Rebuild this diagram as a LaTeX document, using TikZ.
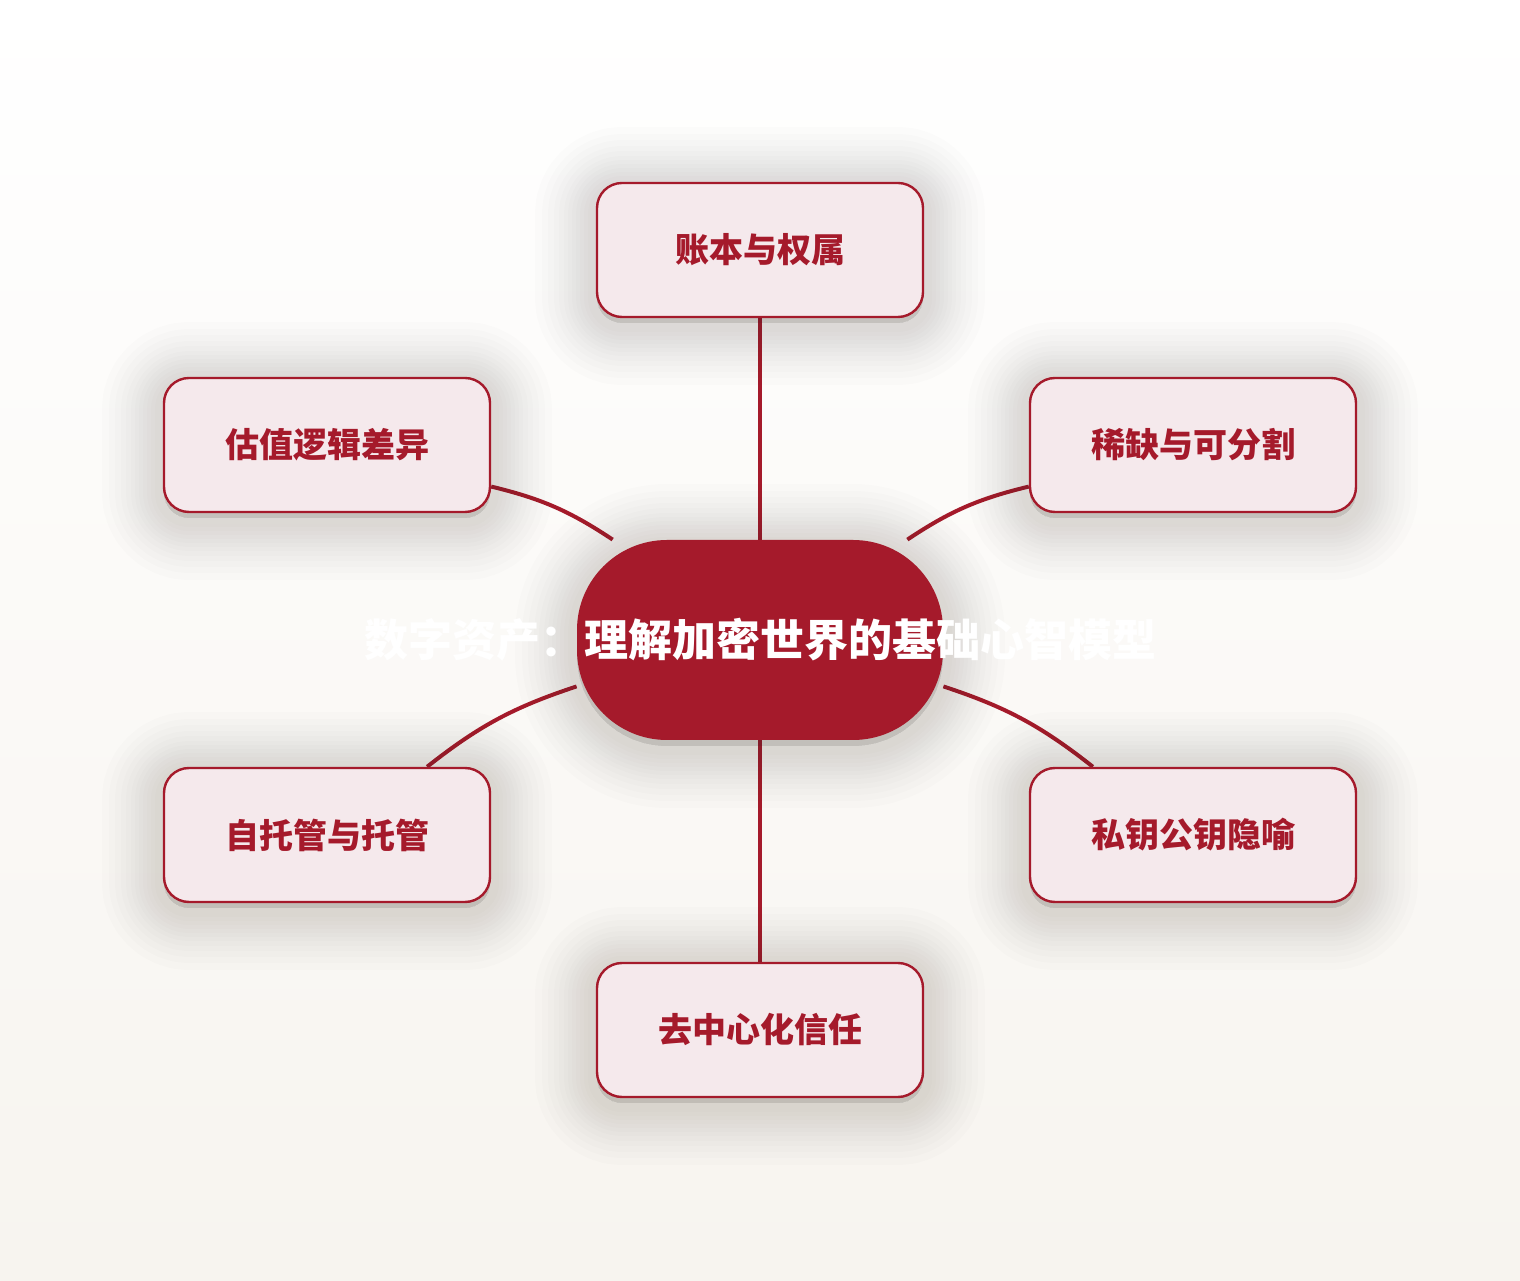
\documentclass[tikz,border=0pt]{standalone}
\usepackage{fontspec}
\setmainfont{Noto Sans CJK SC}
\usetikzlibrary{backgrounds}
\definecolor{hubred}{HTML}{A51A2B}
\definecolor{leafpink}{HTML}{F5E9EC}
\definecolor{paper}{HTML}{F7F4EF}
\definecolor{haze}{HTML}{3A3328}

\begin{document}
\begin{tikzpicture}[x=0.5pt,y=0.5pt,
  halo/.style={preaction={fill=haze,draw=haze,line width=#1,line join=round,
    opacity=0.013,transform canvas={yshift=-3pt}}},
  soft/.style={halo=62pt,halo=55pt,halo=49pt,halo=43pt,halo=38pt,halo=33pt,halo=29pt,
    halo=25pt,halo=21pt,halo=17pt,halo=13pt,halo=9pt},
  leaf/.style={draw=hubred,line width=1.2pt,fill=leafpink,rounded corners=12.5pt,
    minimum width=163pt,minimum height=67pt,text=hubred,
    font=\fontsize{17}{20}\selectfont\bfseries,soft},
  hub/.style={fill=hubred,rounded corners=45pt,minimum width=183pt,minimum height=100pt,soft},
  link/.style={draw=hubred,line width=2pt}]
\useasboundingbox (0,0) rectangle (1520,1280);
\node[hub] (c) at (760,640) {};
\node[text=white,font=\fontsize{22}{26}\selectfont\bfseries] (title) at (c)
  {数字资产：理解加密世界的基础心智模型};
\foreach \name/\pos/\label in
{top/{760,1030}/账本与权属, ul/{327,835}/估值逻辑差异, ur/{1193,835}/稀缺与可分割,
 ll/{327,445}/自托管与托管, lr/{1193,445}/私钥公钥隐喻, bot/{760,250}/去中心化信任}
\node[leaf] (\name) at (\pos) {\label};
\begin{scope}[on background layer]
\shade[top color=white,bottom color=paper] (0,0) rectangle (1520,1280);
\draw[link] (top) -- (c);
\draw[link] (bot) -- (c);
\draw[link] (ul) to[bend left=10] (c);
\draw[link] (ur) to[bend right=10] (c);
\draw[link] (ll) to[bend left=10] (c);
\draw[link] (lr) to[bend right=10] (c);
\end{scope}
\end{tikzpicture}
\end{document}
